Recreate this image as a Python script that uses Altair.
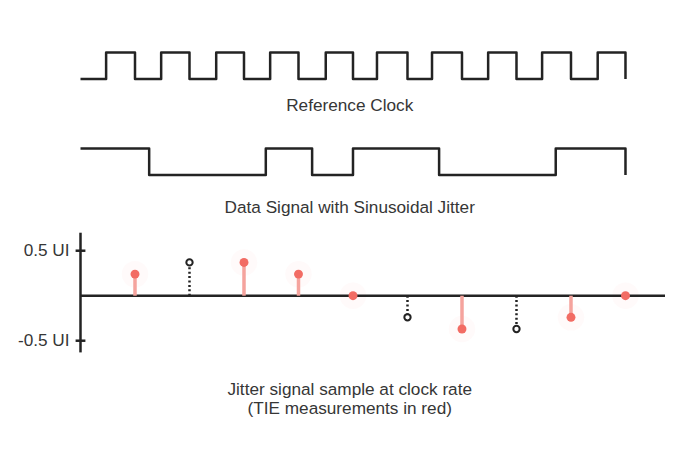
import altair as alt
import pandas as pd

# ---------------- data (time in unit intervals, jitter in UI) ----------------
clock_rise = [0.47, 1.48, 2.49, 3.48, 4.50, 5.44, 6.45, 7.48, 8.47, 9.49]
clock_fall = [1, 2, 3, 4, 5, 6, 7, 8, 9, 10]

data_start_level = 1
data_edges = [1.26, 3.40, 4.25, 5.00, 6.58, 8.72, 10.0]

sample_time = [1, 2, 3, 4, 5, 6, 7, 8, 9, 10]
sample_ui = [0.24, 0.37, 0.37, 0.24, 0.0, -0.24, -0.37, -0.37, -0.24, 0.0]
sample_measured = [True, False, True, True, True, False, True, False, True, True]

tick_values = [0.5, -0.5]
tick_labels = ["0.5 UI", "-0.5 UI"]

caption_texts = [
    "Reference Clock",
    "Data Signal with Sinusoidal Jitter",
    "Jitter signal sample at clock rate",
    "(TIE measurements in red)",
]

# ---------------- layout ----------------
W, H = 657, 447
X_DOMAIN = [-1.3303, 10.725]
Y_DOMAIN = [-1.770, 3.197]
CLOCK_BASE, DATA_BASE, AMP = 2.408, 1.341, 0.295
AXIS_TOP, AXIS_BOTTOM = 0.70, -0.63
ZERO_END = 10.8
TICK_HALF = 0.09
CAPTION_X = 4.94
CAPTION_Y = [2.108, 0.974, -1.05, -1.262]
FONT = "Liberation Sans"
FONT_SIZE = 17.2
INK = "#232323"
TEXT = "#363636"
RED_DOT = "#f26c64"
RED_STEM = "#f5a39d"

xs = alt.Scale(domain=X_DOMAIN, nice=False, zero=False)
ys = alt.Scale(domain=Y_DOMAIN, nice=False, zero=False)


def X(f):
    return alt.X(f, type="quantitative", scale=xs, axis=None)


def Y(f):
    return alt.Y(f, type="quantitative", scale=ys, axis=None)


# ---------------- build tables ----------------
clock_pts = [(0.0, 0)]
for r, f in zip(clock_rise, clock_fall):
    clock_pts += [(r, 0), (r, 1), (f, 1), (f, 0)]
clock_df = pd.DataFrame(
    [{"i": i, "t": t, "y": CLOCK_BASE + AMP * lv} for i, (t, lv) in enumerate(clock_pts)]
)

data_pts = [(0.0, data_start_level)]
lv = data_start_level
for e in data_edges:
    data_pts.append((e, lv))
    lv = 1 - lv
    data_pts.append((e, lv))
data_df = pd.DataFrame(
    [{"i": i, "t": t, "y": DATA_BASE + AMP * l} for i, (t, l) in enumerate(data_pts)]
)

samples = pd.DataFrame(
    {"t": sample_time, "v": sample_ui, "measured": sample_measured, "zero": 0.0}
)
red = samples[samples["measured"]]
black = samples[~samples["measured"]]

axes_df = pd.DataFrame(
    [
        {"x": 0.0, "x2": ZERO_END, "y": 0.0, "y2": 0.0},
        {"x": 0.0, "x2": 0.0, "y": AXIS_TOP, "y2": AXIS_BOTTOM},
    ]
)
ticks_df = pd.DataFrame(
    {"v": tick_values, "label": tick_labels, "x": -TICK_HALF, "x2": TICK_HALF, "x0": 0.0}
)
cap_df = pd.DataFrame({"text": caption_texts, "t": CAPTION_X, "y": CAPTION_Y})

# ---------------- layers ----------------
clock = alt.Chart(clock_df).mark_line(
    color=INK, strokeWidth=2.5, strokeJoin="round", interpolate="linear"
).encode(x=X("t"), y=Y("y"), order="i:Q")

data = alt.Chart(data_df).mark_line(
    color=INK, strokeWidth=2.5, strokeJoin="round", interpolate="linear"
).encode(x=X("t"), y=Y("y"), order="i:Q")

halo = alt.Chart(red).mark_circle(color=RED_DOT, opacity=0.035, size=700).encode(
    x=X("t"), y=Y("v")
)

axes = alt.Chart(axes_df).mark_rule(color=INK, strokeWidth=2.5).encode(
    x=X("x"), x2="x2", y=Y("y"), y2="y2"
)

ticks = alt.Chart(ticks_df).mark_rule(color=INK, strokeWidth=2.5).encode(
    x=X("x"), x2="x2", y=Y("v")
)

tick_text = alt.Chart(ticks_df).mark_text(
    align="right", baseline="middle", dx=-11, font=FONT, fontSize=FONT_SIZE, color=TEXT
).encode(x=X("x0"), y=Y("v"), text="label:N")

red_stems = alt.Chart(red).mark_rule(color=RED_STEM, strokeWidth=3.5).encode(
    x=X("t"), y=Y("zero"), y2="v"
)

black_stems = alt.Chart(black).mark_rule(
    color=INK, strokeWidth=2.5, strokeDash=[2, 2.4]
).encode(x=X("t"), y=Y("zero"), y2="v")

red_dots = alt.Chart(red).mark_point(
    shape="circle", filled=True, color=RED_DOT, size=80, opacity=1
).encode(x=X("t"), y=Y("v"))

black_dots = alt.Chart(black).mark_point(
    shape="circle", filled=False, color=INK, fill="white", fillOpacity=1,
    strokeWidth=2, size=40, opacity=1
).encode(x=X("t"), y=Y("v"))

captions = alt.Chart(cap_df).mark_text(
    align="center", baseline="middle", font=FONT, fontSize=FONT_SIZE, color=TEXT
).encode(x=X("t"), y=Y("y"), text="text:N")

chart = (
    alt.layer(
        halo, clock, data, axes, ticks, tick_text,
        red_stems, black_stems, red_dots, black_dots, captions,
    )
    .properties(
        width=W, height=H, padding=0,
        autosize=alt.AutoSizeParams(type="none"),
        background="white",
    )
    .configure_view(stroke=None)
)

chart.save("out.html", embed_options={"renderer": "svg", "actions": False})
